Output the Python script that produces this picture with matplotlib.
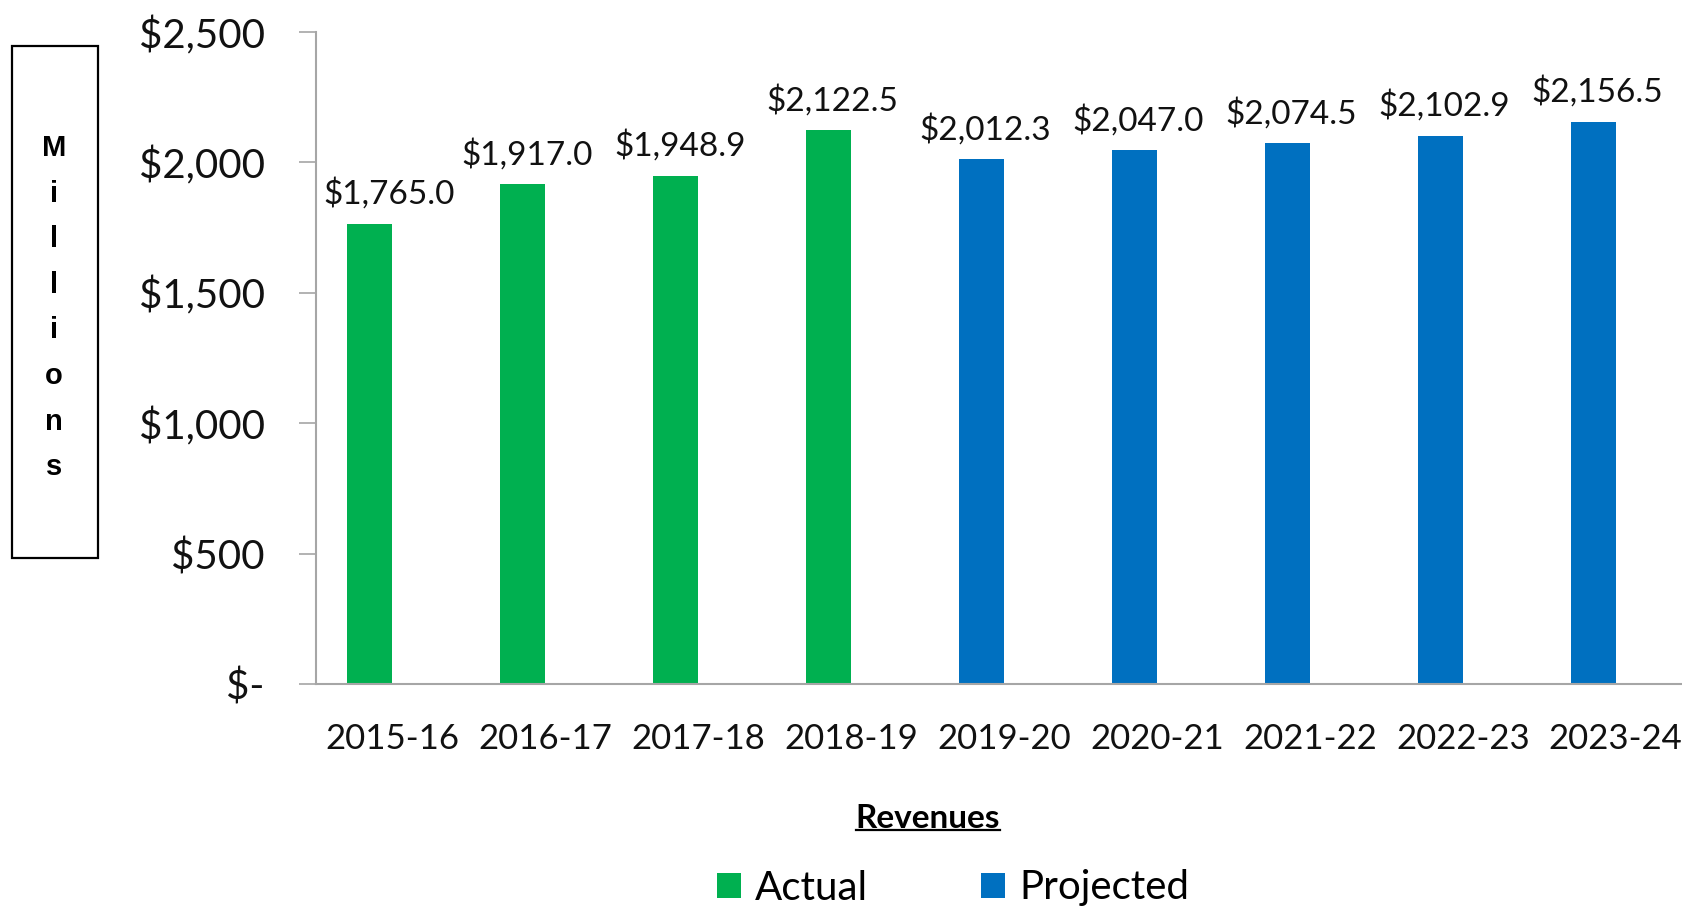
import numpy as np
import matplotlib
matplotlib.use("Agg")
import matplotlib.pyplot as plt
from matplotlib.patches import Rectangle, Patch
from matplotlib.lines import Line2D

plt.rcParams["font.family"] = ["Lato", "DejaVu Sans"]

# data
years = ["2015-16", "2016-17", "2017-18", "2018-19", "2019-20",
         "2020-21", "2021-22", "2022-23", "2023-24"]
revenues = [1765.0, 1917.0, 1948.9, 2122.5, 2012.3, 2047.0, 2074.5, 2102.9, 2156.5]
is_actual = [True, True, True, True, False, False, False, False, False]
yticks = [0, 500, 1000, 1500, 2000, 2500]

green = "#00B050"
blue = "#0070C0"
grey = "#A6A6A6"

W, H = 1682, 908
fig = plt.figure(figsize=(W / 100, H / 100), dpi=100)
fig.patch.set_facecolor("white")

# axes position in pixels
left, right, bottom, top = 316, 1682, 684, 32
ax = fig.add_axes([left / W, 1 - bottom / H, (right - left) / W, (bottom - top) / H])

step = 152.9
x = np.arange(len(years))
width = 0.295
colors = [green if a else blue for a in is_actual]
bars = ax.bar(x - width / 2, revenues, width=width, color=colors, zorder=2)

# value labels; the first one is nudged right, clear of the axis
for i, (b, v) in enumerate(zip(bars, revenues)):
    dx = 14 if i == 0 else 3
    ax.annotate(f"${v:,.1f}", (b.get_x() + b.get_width() / 2, v),
                xytext=(dx, 10), textcoords="offset points",
                ha="center", va="bottom", fontsize=24, color="#111111")

ax.set_xlim(-0.5, -0.5 + (right - left) / step)
ax.set_ylim(0, 2500)
ax.set_xticks(x)
ax.set_xticklabels(years, fontsize=25, color="#111111")
ax.set_yticks(yticks)
ax.set_yticklabels(["$-" if v == 0 else f"${v:,.0f}" for v in yticks],
                   fontsize=29, color="#111111")
ax.tick_params(axis="x", length=0, pad=28)
ax.tick_params(axis="y", length=12, width=1.2, color=grey, pad=25)

for s in ["top", "right"]:
    ax.spines[s].set_visible(False)
for s in ["left", "bottom"]:
    ax.spines[s].set_color(grey)
    ax.spines[s].set_linewidth(1.5)

# "Millions" vertical box
fig.add_artist(Rectangle((12 / W, 1 - 558 / H), 86 / W, 512 / H,
                         transform=fig.transFigure, fill=False,
                         edgecolor="black", linewidth=1.6))
for i, ch in enumerate("Millions"):
    fig.text(54 / W, 1 - (148 + 45.6 * i) / H, ch, ha="center", va="center",
             fontsize=21, fontweight="bold", color="black",
             family=["Liberation Sans", "DejaVu Sans"])

# x-axis title, underlined
t = fig.text(928 / W, 1 - 819 / H, "Revenues", ha="center", va="center",
             fontsize=24, fontweight="bold", color="black")
fig.canvas.draw()
bb = t.get_window_extent(renderer=fig.canvas.get_renderer())
uy = (bb.y0 + 4) / H
fig.add_artist(Line2D([bb.x0 / W, bb.x1 / W], [uy, uy], transform=fig.transFigure,
                      color="black", linewidth=1.6))

# legend
handles = [Patch(facecolor=green, label="Actual"), Patch(facecolor=blue, label="Projected")]
fig.legend(handles=handles, loc="center", bbox_to_anchor=(953 / W, 1 - 888 / H),
           ncol=2, frameon=False, fontsize=29, handlelength=0.6, handleheight=0.6,
           handletextpad=0.35, columnspacing=2.8, borderpad=0)

fig.savefig("out.png", dpi=100)
